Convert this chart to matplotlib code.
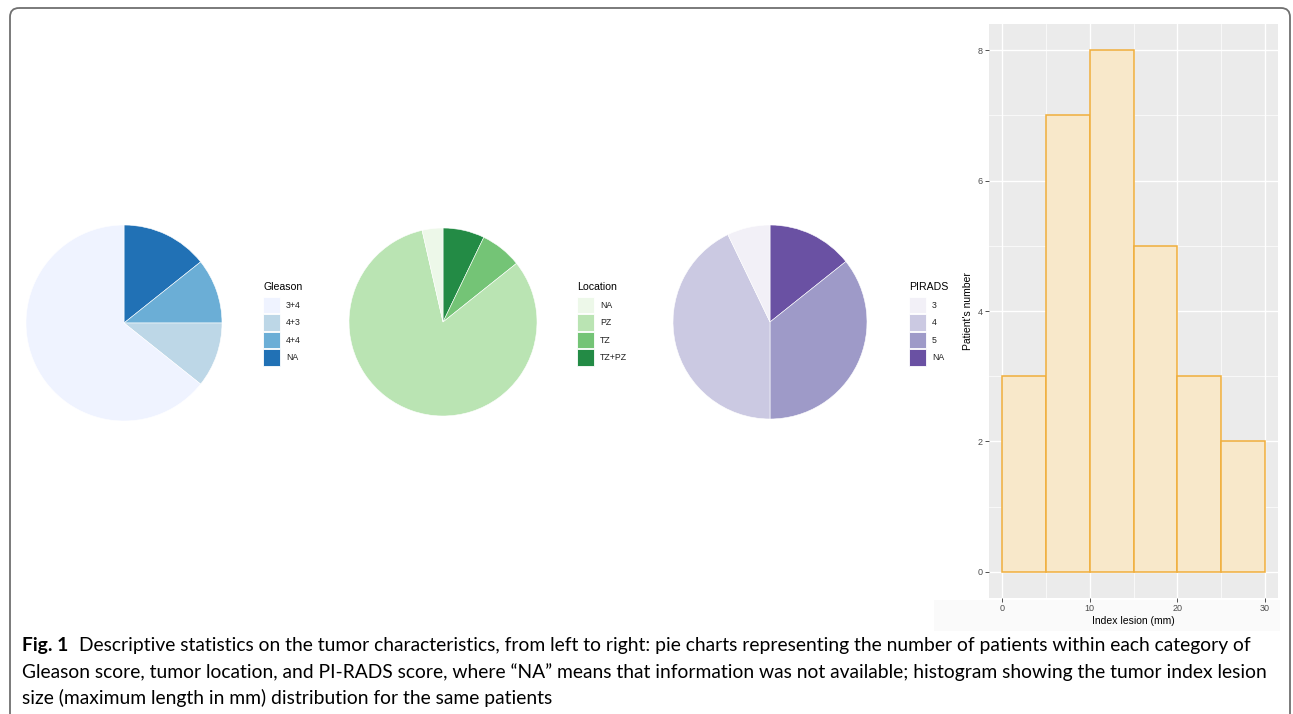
import numpy as np
import matplotlib
matplotlib.use("Agg")
import matplotlib.pyplot as plt
from matplotlib.patches import Rectangle, FancyBboxPatch

plt.rcParams["font.family"] = ["Liberation Sans", "DejaVu Sans"]

# ---- data ----
gleason_labels = ["3+4", "4+3", "4+4", "NA"]
gleason_counts = [18, 3, 3, 4]
gleason_colors = ["#EFF3FF", "#BDD7E7", "#6BAED6", "#2171B5"]

location_labels = ["NA", "PZ", "TZ", "TZ+PZ"]
location_counts = [1, 23, 2, 2]
location_colors = ["#EDF8E9", "#BAE4B3", "#74C476", "#238B45"]

pirads_labels = ["3", "4", "5", "NA"]
pirads_counts = [2, 12, 10, 4]
pirads_colors = ["#F2F0F7", "#CBC9E2", "#9E9AC8", "#6A51A3"]

bin_edges = [0, 5, 10, 15, 20, 25, 30]
bin_counts = [3, 7, 8, 5, 3, 2]

caption_bold = "Fig. 1"
caption_lines = [
    "Descriptive statistics on the tumor characteristics, from left to right: pie charts "
    "representing the number of patients within each category of",
    "Gleason score, tumor location, and PI-RADS score, where \u201cNA\u201d means that "
    "information was not available; histogram showing the tumor index lesion",
    "size (maximum length in mm) distribution for the same patients",
]

# ---- layout (pixels, origin top-left) ----
W, H = 1293, 714
fig = plt.figure(figsize=(W / 100, H / 100), dpi=100)
fig.patch.set_facecolor("white")


def px_rect(x, y, w, h):
    return [x / W, 1 - (y + h) / H, w / W, h / H]


# full-figure canvas for frame, legends and caption
canvas = fig.add_axes([0, 0, 1, 1])
canvas.set_xlim(0, W)
canvas.set_ylim(H, 0)
canvas.axis("off")

canvas.add_patch(FancyBboxPatch((10, 8), 1280, 800,
                                boxstyle="round,pad=0,rounding_size=9",
                                facecolor="none", edgecolor="#707070", lw=1.3))
# faint strip under the histogram (axis text area)
canvas.add_patch(Rectangle((934, 600), 346, 31, facecolor="#FAFAFA",
                           edgecolor="none"))


def pie_panel(cx, cy, r, counts, colors, labels, title, leg_x):
    ax = fig.add_axes(px_rect(cx - r, cy - r, 2 * r, 2 * r))
    # ggplot polar stacking: last level starts at 12 o'clock, clockwise
    ax.pie(counts[::-1], colors=colors[::-1], startangle=90, counterclock=False,
           radius=1.0, wedgeprops=dict(linewidth=0.4, edgecolor="white"))
    ax.set_xlim(-1, 1)
    ax.set_ylim(-1, 1)
    ax.set_aspect("equal")
    ax.axis("off")

    canvas.text(leg_x, 287, title, fontsize=7.6, va="center", ha="left")
    for i, (lab, col) in enumerate(zip(labels, colors)):
        y = 296.5 + i * 17.6
        canvas.add_patch(Rectangle((leg_x, y), 16.5, 16.5, facecolor=col,
                                   edgecolor="white", lw=0.6))
        canvas.text(leg_x + 23, y + 8.5, lab, fontsize=6.3, va="center",
                    ha="left", color="#222222")


pie_panel(124, 323, 98, gleason_counts, gleason_colors, gleason_labels,
          "Gleason", 263)
pie_panel(443, 322, 94, location_counts, location_colors, location_labels,
          "Location", 577)
pie_panel(770, 322, 97, pirads_counts, pirads_colors, pirads_labels,
          "PIRADS", 909)

# ---- histogram ----
ax = fig.add_axes(px_rect(989, 24, 289, 574))
ax.set_facecolor("#EBEBEB")
for sp in ax.spines.values():
    sp.set_visible(False)
ax.set_axisbelow(True)
ax.bar(bin_edges[:-1], bin_counts, width=np.diff(bin_edges), align="edge",
       facecolor="#F8E8CA", edgecolor="#F0AE3C", linewidth=1.1, zorder=3)
ax.set_xlim(-1.5, 31.5)
ax.set_ylim(-0.4, 8.4)
ax.set_xticks([0, 10, 20, 30])
ax.set_yticks([0, 2, 4, 6, 8])
ax.set_xticks([5, 15, 25], minor=True)
ax.set_yticks([1, 3, 5, 7], minor=True)
ax.grid(which="major", color="white", linewidth=1.0)
ax.grid(which="minor", color="white", linewidth=0.5)
ax.tick_params(which="major", length=3, width=0.6, color="#333333",
               labelsize=6.5, labelcolor="#4D4D4D", pad=1.5)
ax.tick_params(which="minor", length=0)
ax.set_xlabel("Index lesion (mm)", fontsize=7.5, labelpad=2)
ax.set_ylabel("Patient's number", fontsize=7.5, labelpad=3)

# ---- caption ----
renderer = fig.canvas.get_renderer()
cap_x0 = 22
line_ends = [1270, 1267]
cap_font = ["Lato", "DejaVu Sans"]
fs = 12.0
for _ in range(2):
    tb = canvas.text(cap_x0, 645, caption_bold, fontsize=fs, fontweight="bold",
                     family=cap_font, va="center")
    t1 = canvas.text(0, 645, caption_lines[0], fontsize=fs, family=cap_font,
                     va="center")
    t2 = canvas.text(0, 672, caption_lines[1], fontsize=fs, family=cap_font,
                     va="center")
    w1 = (tb.get_window_extent(renderer).width + fs * 0.75
          + t1.get_window_extent(renderer).width)
    w2 = t2.get_window_extent(renderer).width
    for t in (tb, t1, t2):
        t.remove()
    fs *= min((line_ends[0] - cap_x0) / w1, (line_ends[1] - cap_x0) / w2)

tb = canvas.text(cap_x0, 645, caption_bold, fontsize=fs, fontweight="bold",
                 family=cap_font, va="center")
wb = tb.get_window_extent(renderer).width
canvas.text(cap_x0 + wb + fs * 0.75, 645, caption_lines[0], fontsize=fs,
            family=cap_font, va="center")
canvas.text(cap_x0, 672, caption_lines[1], fontsize=fs, family=cap_font,
            va="center")
canvas.text(cap_x0, 698, caption_lines[2], fontsize=fs, family=cap_font,
            va="center")

fig.savefig("out.png", dpi=100)
